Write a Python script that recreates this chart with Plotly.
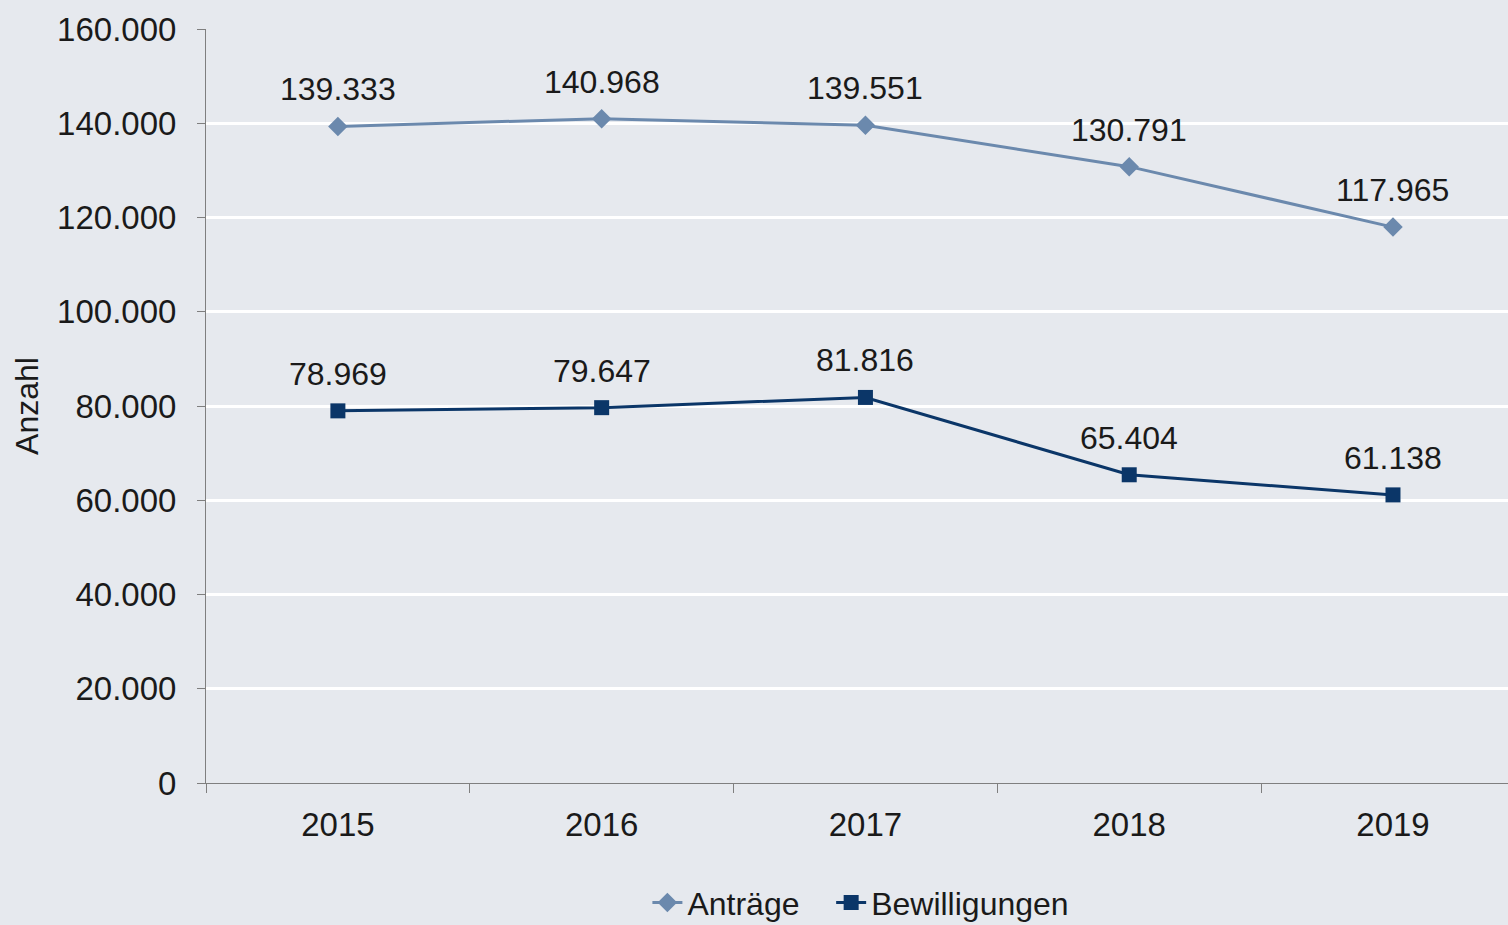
import plotly.graph_objects as go

years = ["2015", "2016", "2017", "2018", "2019"]
antraege = [139333, 140968, 139551, 130791, 117965]
bewilligungen = [78969, 79647, 81816, 65404, 61138]
antraege_labels = ["139.333", "140.968", "139.551", "130.791", "117.965"]
bewilligungen_labels = ["78.969", "79.647", "81.816", "65.404", "61.138"]
y_ticks = [0, 20000, 40000, 60000, 80000, 100000, 120000, 140000, 160000]

xpos = list(range(len(years)))
FONT = "Liberation Sans, Arial, sans-serif"
TXT = "#1a1a1a"
BG = "#e6e9ee"
C_ANT = "#6b89ad"
C_BEW = "#0b3668"

fig = go.Figure()
fig.add_trace(go.Scatter(
    x=xpos, y=antraege, mode="lines+markers", name="Anträge\u00a0\u00a0\u00a0",
    line=dict(color=C_ANT, width=3),
    marker=dict(symbol="diamond", size=15, color=C_ANT),
))
fig.add_trace(go.Scatter(
    x=xpos, y=bewilligungen, mode="lines+markers", name="Bewilligungen",
    line=dict(color=C_BEW, width=3),
    marker=dict(symbol="square", size=15, color=C_BEW),
))

for xs, ys, labs in [(xpos, antraege, antraege_labels), (xpos, bewilligungen, bewilligungen_labels)]:
    for x, y, t in zip(xs, ys, labs):
        fig.add_annotation(x=x, y=y, text=t, showarrow=False, yanchor="middle",
                           yshift=37, font=dict(family=FONT, size=32, color=TXT))

fig.update_layout(
    width=1508, height=925,
    margin=dict(l=206, r=0, t=29, b=142),
    paper_bgcolor=BG, plot_bgcolor=BG,
    separators=",.",
    font=dict(family=FONT, size=32, color=TXT),
    showlegend=True,
    legend=dict(orientation="h", x=0.503, xanchor="center",
                yref="container", y=0.024, yanchor="middle",
                font=dict(family=FONT, size=32, color=TXT), bgcolor="rgba(0,0,0,0)",
                itemwidth=30, tracegroupgap=0),
)
fig.update_yaxes(
    range=[0, 160000], tickvals=y_ticks, tickformat=",d",
    showgrid=True, gridcolor="#ffffff", gridwidth=3, zeroline=False,
    showline=True, linecolor="#7f7f7f", linewidth=1,
    ticks="outside", ticklen=8, tickcolor="#7f7f7f", ticklabelstandoff=14,
    title=dict(text="Anzahl", font=dict(family=FONT, size=32, color=TXT), standoff=8),
    tickfont=dict(family=FONT, size=33, color=TXT),
)
fig.update_xaxes(
    range=[-0.5, 4.436], tickvals=xpos, ticktext=years, ticks="",
    showgrid=False, zeroline=False, showline=True, linecolor="#7f7f7f", linewidth=1,
    tickfont=dict(family=FONT, size=33, color=TXT), ticklabelstandoff=12,
    minor=dict(tickvals=[-0.5, 0.5, 1.5, 2.5, 3.5], ticks="outside", ticklen=9,
               tickcolor="#7f7f7f", showgrid=False),
)

post = ("document.body.style.margin='0';document.body.style.padding='0';"
        "document.body.style.overflow='hidden';"
        "document.body.style.background='" + BG + "';")
fig.write_html("out.html", post_script=post, config={"displayModeBar": False})
